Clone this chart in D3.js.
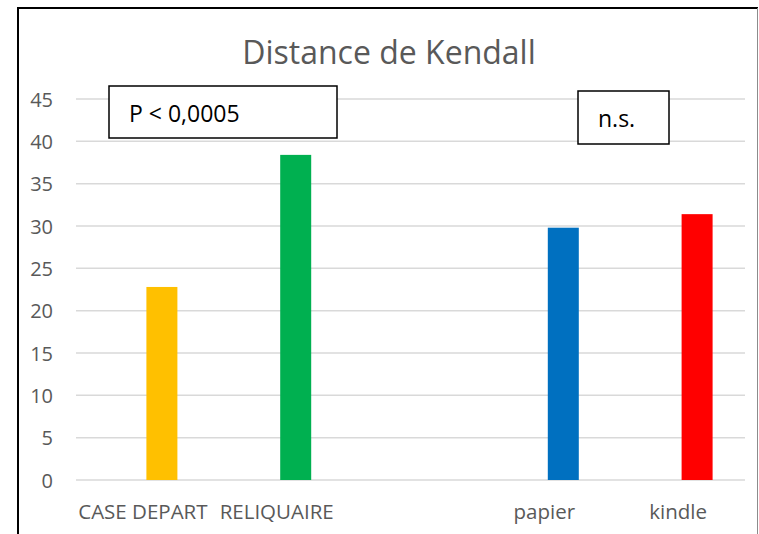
<!DOCTYPE html>
<html>
<head>
<meta charset="utf-8">
<script src="https://cdn.jsdelivr.net/npm/d3@7"></script>
<style>
  body { margin: 0; background: #fff; }
  svg { display: block; }
</style>
</head>
<body>
<div id="chart"></div>
<script>
// categories (one empty slot between the two groups)
const categories = ['CASE DEPART', 'RELIQUAIRE', '', 'papier', 'kindle'];
const values = [22.8, 38.4, null, 29.8, 31.4];
const barColors = ['#ffc000', '#00b050', null, '#0070c0', '#ff0000'];
const yTicks = [0, 5, 10, 15, 20, 25, 30, 35, 40, 45];
const title = 'Distance de Kendall';
const notes = [
    {text: 'P < 0,0005', cat: 0},
    {text: 'n.s.', cat: 3}
];

const width = 759, height = 534;
const margin = {top: 99, right: 14, bottom: 54, left: 76};

const svg = d3.select('#chart').append('svg')
    .attr('width', width)
    .attr('height', height);

// outer frame of the chart area
svg.append('line').attr('x1', 18).attr('x2', 18).attr('y1', 7).attr('y2', height)
    .attr('stroke', '#000').attr('stroke-width', 2);
svg.append('line').attr('x1', 17).attr('x2', 758).attr('y1', 8).attr('y2', 8)
    .attr('stroke', '#000').attr('stroke-width', 2);
svg.append('line').attr('x1', 757.5).attr('x2', 757.5).attr('y1', 8).attr('y2', height)
    .attr('stroke', '#8c8c8c').attr('stroke-width', 1);

const x = d3.scaleBand()
    .domain(d3.range(categories.length))
    .range([margin.left, width - margin.right])
    .padding(0);

const y = d3.scaleLinear()
    .domain([0, 45])
    .range([height - margin.bottom, margin.top]);

// gridlines
svg.append('g')
    .selectAll('line')
    .data(yTicks)
    .join('line')
    .attr('x1', margin.left)
    .attr('x2', width - margin.right)
    .attr('y1', d => y(d))
    .attr('y2', d => y(d))
    .attr('stroke', '#d9d9d9')
    .attr('stroke-width', 1.5);

// y tick labels
svg.append('g')
    .selectAll('text')
    .data(yTicks)
    .join('text')
    .attr('x', 53)
    .attr('y', d => y(d))
    .attr('text-anchor', 'end')
    .attr('dominant-baseline', 'central')
    .attr('font-family', 'Open Sans, sans-serif')
    .attr('font-size', 20)
    .attr('fill', '#595959')
    .text(d => d);

// bars sit a bit right of the category centre (second series slot)
const barWidth = 31;
const barShift = 19;
const barData = categories.map((c, i) => ({i, v: values[i], color: barColors[i]}))
    .filter(d => d.v != null);

svg.append('g')
    .selectAll('rect')
    .data(barData)
    .join('rect')
    .attr('x', d => x(d.i) + x.bandwidth() / 2 + barShift - barWidth / 2)
    .attr('y', d => y(d.v))
    .attr('width', barWidth)
    .attr('height', d => y(0) - y(d.v))
    .attr('fill', d => d.color);

// category labels
svg.append('g')
    .selectAll('text')
    .data(categories)
    .join('text')
    .attr('x', (d, i) => x(i) + x.bandwidth() / 2)
    .attr('y', 519)
    .attr('text-anchor', 'middle')
    .attr('font-family', 'Open Sans, sans-serif')
    .attr('font-size', 20.5)
    .attr('fill', '#595959')
    .text(d => d);

// title
svg.append('text')
    .attr('x', 389)
    .attr('y', 64)
    .attr('text-anchor', 'middle')
    .attr('font-family', 'Open Sans, sans-serif')
    .attr('font-size', 32)
    .attr('fill', '#595959')
    .text(title);

// annotation boxes
const boxes = [
    {x: 109, y: 86, w: 228, h: 52, tx: 129, ty: 122},
    {x: 578, y: 91, w: 91, h: 53, tx: 598, ty: 127}
];
notes.forEach((n, k) => {
    const b = boxes[k];
    svg.append('rect')
        .attr('x', b.x).attr('y', b.y)
        .attr('width', b.w).attr('height', b.h)
        .attr('fill', '#fff')
        .attr('stroke', '#000')
        .attr('stroke-width', 1.5);
    svg.append('text')
        .attr('x', b.tx).attr('y', b.ty)
        .attr('font-family', 'Open Sans, sans-serif')
        .attr('font-size', 23)
        .attr('fill', '#000')
        .text(n.text);
});
</script>
</body>
</html>
